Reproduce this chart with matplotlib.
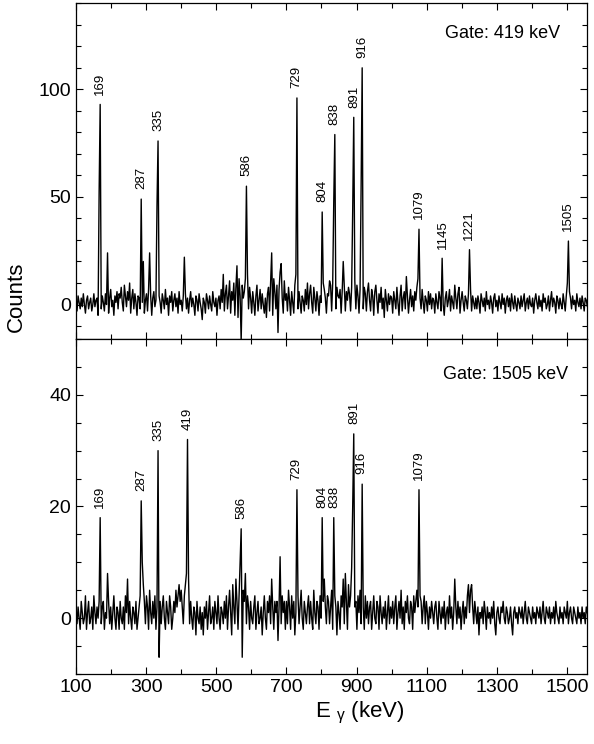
import numpy as np
import matplotlib

matplotlib.use('Agg')
from matplotlib import pyplot as plt
from matplotlib.ticker import MultipleLocator, FixedLocator

plt.rcParams['font.family'] = ['Liberation Sans', 'DejaVu Sans']
plt.rcParams['mathtext.fontset'] = 'dejavusans'

# spectra are binned at 3 keV, first bin at 100 keV
e_start = 100
bin_width = 3

# gate 419 keV: background counts per bin
bg_419 = [
    2, -3, 4, 1, -2, 3, -1, 5, 0, -4, 2, 4, -2, 1, 3, -3, 0, 5, -1, 2,
    3, -5, 2, 6, -2, 4, 1, -3, 5, 0, 2, -4, 3, 7, -1, 2, -5, 4, 1, 6,
    -2, 5, 3, 8, 1, -3, 9, 4, -1, 6, 2, 10, -4, 3, 7, -2, 5, 1, -5, 4,
    3, -2, 6, 1, 8, -4, 2, 5, -3, 7, 0, 4, -5, 3, 6, -1, 2, 8, -3, 4,
    1, -4, 5, 2, -2, 7, 0, 3, -5, 4, 1, 6, -3, 2, 5, -1, 3, -4, 6, 0,
    2, -3, 4, 1, 5, -2, 3, -4, 2, 6, -1, 3, 0, -5, 4, 2, -3, 5, 1, -2,
    -7, 3, 1, -4, 5, 2, -2, 4, 0, -3, 6, 1, -1, 3, -5, 2, 4, -2, 7, 1,
    14, -3, 5, 9, -2, 4, 11, -4, 6, 2, 10, -5, 8, 18, -6, 12, 4, -17, 9, 3,
    6, 12, 8, 14, -2, 8, 3, -4, 6, 1, -5, 4, 9, -3, 2, 7, -2, 5, 0, -4,
    3, -6, 5, 8, -3, 10, 4, -5, 12, 6, -2, 9, -13, 7, 15, 19, 3, -4, 11, 2,
    5, -3, 8, 2, -5, 6, 1, -4, 9, 3, 12, -2, 6, 1, -4, 4, 2, -3, 7, 0,
    10, -2, 5, 9, 1, -4, 8, 3, -3, 6, 2, -5, 4, 1, 3, -2, 7, 3, -4, 5,
    4, 11, 9, -3, 10, 12, 6, -2, 8, 4, 3, 7, -4, 6, 20, 9, -3, 6, 2, 8,
    5, -3, 8, 2, 6, 11, -2, 9, 4, -4, 7, 12, 3, -2, 8, 5, -3, 6, 10, 2,
    -3, 7, 4, -5, 6, 9, 2, -4, 5, 1, 8, -2, 3, -6, 7, 2, -3, 5, 0, 4,
    3, -4, 6, 2, -2, 8, 1, -5, 4, 9, -3, 3, 6, -2, 13, 4, -4, 2, 7, -1,
    4, -3, 6, 2, 8, 5, 9, 3, -2, 7, 1, -4, 4, 2, -3, 6, 0, 5, -2, 3,
    2, -4, 5, 1, -2, 6, 3, -3, 4, 0, -5, 3, 6, -1, 2, 7, -3, 4, 1, -2,
    9, 3, -2, 5, 8, -4, 2, 6, 1, -3, 4, 2, -2, 5, 3, 7, -3, 4, 1, -2,
    3, -2, 4, 1, -4, 5, 2, -1, 3, -3, 6, 0, 2, -2, 4, 1, -4, 3, 5, -1,
    2, -3, 4, 1, -2, 5, 0, 3, -4, 2, 4, -1, 3, -3, 5, 1, -2, 4, 0, -3,
    3, 1, -2, 4, -1, 2, 5, -3, 1, 3, -2, 4, 0, -1, 3, -4, 2, 5, 1, -2,
    4, -1, 2, -3, 5, 1, 3, -2, 0, 4, -3, 2, 6, -1, 3, 1, -4, 4, 2, -2,
    3, 0, -2, 5, 1, -3, 4, 2, -1, 6, 3, -2, 4, 0, 2, -3, 5, 1, -1, 3,
    -2, 4, 1, -3, 3, 2, -1, 4, -2, 3,
]

# gate 1505 keV: background counts per bin
bg_1505 = [
    1, -1, 2, 0, -2, 3, 1, -1, 0, 4, -2, 1, 3, -1, 0, 2, -2, 4, 1, -1,
    2, 0, 3, 4, -1, 2, 3, -2, 1, 0, 8, 3, -1, 2, -2, 1, 4, 0, -2, 2,
    1, -2, 3, 0, -1, 2, -2, 4, 1, 7, -1, 3, 0, -2, 2, 1, -1, 3, -2, 0,
    2, 4, 8, 10, 6, 3, -1, 4, 2, -2, 5, 1, -1, 3, 0, 4, -2, 2, 3, -7,
    3, -1, 2, 4, 0, -2, 3, 1, -1, 4, 2, -2, 0, 3, 1, 5, 2, 4, 6, 3,
    5, 2, -1, 4, 6, 3, 2, 7, -1, 3, 0, -2, 2, 1, -3, 3, 0, -1, 2, -2,
    1, -3, 2, 0, 3, -2, 1, 4, -1, 0, 2, -2, 3, 1, -1, 4, 0, -2, 2, 1,
    -1, 3, 0, 4, -2, 2, 5, 1, -3, 6, 2, -1, 7, 3, -2, 4, 9, 2, -7, 5,
    3, 8, -1, 4, 2, -2, 3, 0, -1, 2, 4, -2, 1, 3, -1, 0, 2, -3, 1, 4,
    0, -2, 3, 1, 4, -1, 7, 2, -2, 3, 1, 3, -4, 2, 11, -1, 4, 1, 3, -2,
    3, -1, 5, 2, -2, 4, 0, 3, -3, 1, 2, 4, -1, 2, 5, 0, -2, 3, 1, -1,
    2, 4, -1, 3, 0, -2, 5, 1, -1, 3, 2, -2, 4, 0, 2, 3, 7, 2, -1, 4,
    3, -1, 2, 5, -2, 1, 4, 2, -3, 3, 1, -2, 4, 2, 7, -1, 8, 3, -2, 6,
    2, 4, -1, 5, 1, 2, 3, -2, 4, 1, 5, -1, 3, 2, -2, 4, 0, 3, -1, 2,
    3, -2, 1, 4, 0, -1, 3, 2, -2, 4, 1, -1, 2, 0, 3, -2, 1, 4, -1, 2,
    0, 3, -1, 2, 4, -2, 1, 3, 0, 5, -1, 2, -2, 3, 1, 4, 0, -1, 3, 2,
    -2, 4, 1, 3, 5, 2, 0, 4, 3, -1, 2, 4, -1, 3, 1, -2, 2, 0, 3, 1,
    -1, 2, 3, 0, -2, 3, 1, -1, 2, 0, 3, -2, 1, 2, -1, 4, 0, 2, -2, 1,
    7, 2, -1, 3, 0, 2, -2, 1, 3, -1, 2, 0, 4, 6, 1, 5, 6, 2, -1, 3,
    1, -1, 2, -3, 1, 0, 2, -1, 3, 1, -2, 2, 0, 1, -1, 2, 0, 3, -1, -3,
    1, 2, 0, -1, 2, 1, 3, 0, -1, 2, 1, -1, 0, 2, -1, -3, 1, 2, 0, 1,
    -1, 2, 1, 0, 2, -1, 1, 3, 0, -1, 2, 1, 0, -1, 2, 0, 1, -1, 2, 1,
    0, 2, -1, 1, 3, 0, -1, 2, 1, 0, 2, -1, 1, 0, 2, -1, 3, 1, 0, -1,
    2, 0, 1, -1, 2, 1, 0, 3, -1, 1, 2, 0, -1, 2, 1, 0, -1, 2, 0, 1,
    -1, 2, 0, 1, -1, 2, 1, 0, -1, 1,
]

# labelled transitions (keV position, counts, label)
peak_e_419 = [169, 287, 335, 587, 729, 802, 837, 893, 916, 1078, 1145, 1221, 1504]
peak_h_419 = [93, 49, 76, 55, 96, 43, 79, 87, 110, 35, 21.5, 25.5, 29.5]
peak_lab_419 = ['169', '287', '335', '586', '729', '804', '838', '891', '916',
                '1079', '1145', '1221', '1505']

# weaker unlabelled lines and peak shoulders
side_e_419 = [166, 190, 292, 311, 332, 409, 659, 727, 805, 835, 889, 913, 1076, 1502]
side_h_419 = [52, 24, 20, 24, 46, 22, 24, 14, 10, 48, 44, 55, 12, 10]

peak_e_1505 = [168, 287, 335, 419, 572, 729, 802, 836, 893, 915, 1078]
peak_h_1505 = [18, 21, 30, 32, 16, 23, 18, 18, 33, 24, 23]
peak_lab_1505 = ['169', '287', '335', '419', '586', '729', '804', '838', '891',
                 '916', '1079']

side_e_1505 = [416, 569, 886, 889]
side_h_1505 = [8, 10, 9, 20]


def build_spectrum(bg, pk_e, pk_h, sd_e, sd_h):
    counts = np.array(bg, dtype=float)
    for e, h in list(zip(sd_e, sd_h)) + list(zip(pk_e, pk_h)):
        counts[int(round((e - e_start) / bin_width))] = h
    energy = e_start + bin_width * np.arange(len(counts))
    return energy, counts


def style_axes(ax, ylim, ymajor, yminor):
    ax.set_xlim(100, 1557)
    ax.set_ylim(*ylim)
    ax.xaxis.set_major_locator(FixedLocator(np.arange(100, 1600, 200)))
    ax.xaxis.set_minor_locator(FixedLocator(np.arange(200, 1600, 200)))
    ax.yaxis.set_major_locator(MultipleLocator(ymajor))
    ax.yaxis.set_minor_locator(MultipleLocator(yminor))
    ax.tick_params(which='both', direction='in', top=True, right=True,
                   labelsize=14, width=0.8)
    ax.tick_params(which='major', length=5)
    ax.tick_params(which='minor', length=3.5)
    for s in ax.spines.values():
        s.set_linewidth(0.9)


def label_peaks(ax, pk_e, pk_h, labels):
    for e, h, t in zip(pk_e, pk_h, labels):
        ax.annotate(t, xy=(e, h), xytext=(0, 7), textcoords='offset points',
                    rotation=90, ha='center', va='bottom', fontsize=9.5)


fig = plt.figure(figsize=(5.94, 7.44), dpi=100)
ax1 = fig.add_axes([0.1279, 0.5444, 0.8603, 0.4512])
ax2 = fig.add_axes([0.1279, 0.0941, 0.8603, 0.4503])

x1, y1 = build_spectrum(bg_419, peak_e_419, peak_h_419, side_e_419, side_h_419)
x2, y2 = build_spectrum(bg_1505, peak_e_1505, peak_h_1505, side_e_1505, side_h_1505)

ax1.plot(x1, y1, color='black', lw=1.0)
ax2.plot(x2, y2, color='black', lw=1.0)

style_axes(ax1, (-16, 140), 50, 10)
style_axes(ax2, (-10, 50), 20, 5)
ax1.tick_params(labelbottom=False)

label_peaks(ax1, peak_e_419, peak_h_419, peak_lab_419)
label_peaks(ax2, peak_e_1505, peak_h_1505, peak_lab_1505)

ax1.text(0.947, 0.911, 'Gate: 419 keV', transform=ax1.transAxes,
         ha='right', va='center', fontsize=13)
ax2.text(0.963, 0.893, 'Gate: 1505 keV', transform=ax2.transAxes,
         ha='right', va='center', fontsize=13)

fig.text(16.5 / 594, 1 - 297 / 744, 'Counts', rotation=90,
         ha='center', va='center', fontsize=16)
fig.text(360 / 594, 1 - 717 / 744, r'E $_{\mathregular{γ}}$ (keV)',
         ha='center', va='baseline', fontsize=16)

fig.savefig('out.png', dpi=100)
